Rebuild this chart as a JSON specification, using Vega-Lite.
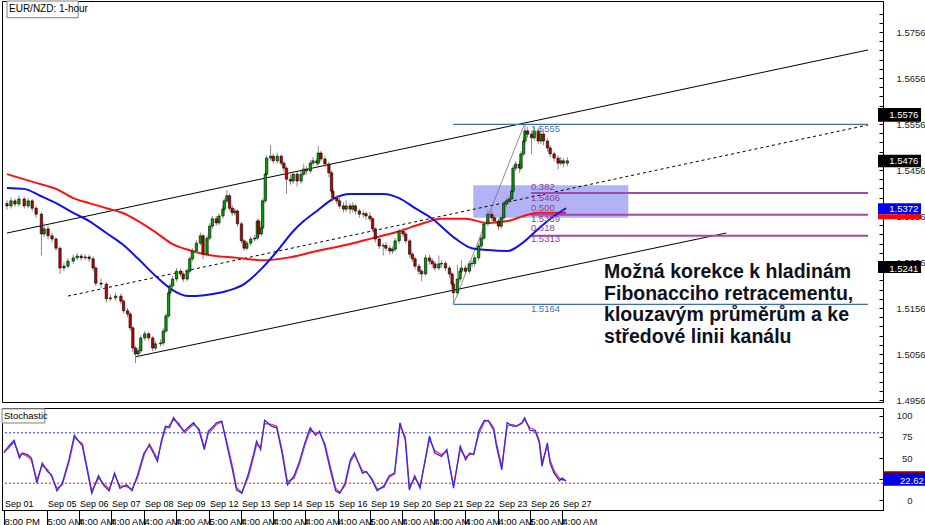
{
"$schema":"https://vega.github.io/schema/vega-lite/v6.json",
"padding":0,
"background":"#ffffff",
"spacing":1,
"config":{"view":{"stroke":"#000000","strokeWidth":1},"font":"Liberation Sans","axis":{"labelFont":"Liberation Sans","labelColor":"#222222","domainColor":"#000000","tickColor":"#000000","grid":false,"title":null}},
"resolve":{"scale":{"x":"independent","y":"independent"}},
"datasets":{
"candles":[
{"t":0,"o":1.5383,"h":1.5390,"l":1.5370,"c":1.5378},
{"t":3,"o":1.5378,"h":1.5396,"l":1.5372,"c":1.5389},
{"t":6,"o":1.5389,"h":1.5394,"l":1.5376,"c":1.5382},
{"t":9,"o":1.5382,"h":1.5400,"l":1.5377,"c":1.5393},
{"t":13,"o":1.5393,"h":1.5398,"l":1.5372,"c":1.5378},
{"t":16,"o":1.5378,"h":1.5395,"l":1.5373,"c":1.5389},
{"t":19,"o":1.5389,"h":1.5393,"l":1.5366,"c":1.5373},
{"t":22,"o":1.5373,"h":1.5378,"l":1.5352,"c":1.5360},
{"t":26,"o":1.5360,"h":1.5364,"l":1.5270,"c":1.5317},
{"t":28,"o":1.5317,"h":1.5340,"l":1.5310,"c":1.5328},
{"t":31,"o":1.5328,"h":1.5335,"l":1.5305,"c":1.5313},
{"t":34,"o":1.5313,"h":1.5320,"l":1.5298,"c":1.5306},
{"t":37,"o":1.5306,"h":1.5310,"l":1.5280,"c":1.5286},
{"t":40,"o":1.5286,"h":1.5290,"l":1.5230,"c":1.5243},
{"t":43,"o":1.5243,"h":1.5255,"l":1.5236,"c":1.5247},
{"t":46,"o":1.5247,"h":1.5264,"l":1.5242,"c":1.5258},
{"t":50,"o":1.5258,"h":1.5272,"l":1.5252,"c":1.5265},
{"t":53,"o":1.5265,"h":1.5276,"l":1.5260,"c":1.5269},
{"t":56,"o":1.5269,"h":1.5274,"l":1.5259,"c":1.5265},
{"t":59,"o":1.5265,"h":1.5273,"l":1.5260,"c":1.5267},
{"t":62,"o":1.5267,"h":1.5272,"l":1.5256,"c":1.5263},
{"t":65,"o":1.5263,"h":1.5268,"l":1.5236,"c":1.5243},
{"t":67,"o":1.5243,"h":1.5247,"l":1.5204,"c":1.5210},
{"t":71,"o":1.5210,"h":1.5220,"l":1.5200,"c":1.5208},
{"t":75,"o":1.5208,"h":1.5212,"l":1.5168,"c":1.5176},
{"t":78,"o":1.5176,"h":1.5186,"l":1.5170,"c":1.5178},
{"t":82,"o":1.5178,"h":1.5190,"l":1.5172,"c":1.5182},
{"t":86,"o":1.5182,"h":1.5188,"l":1.5164,"c":1.5171},
{"t":88,"o":1.5171,"h":1.5175,"l":1.5144,"c":1.5150},
{"t":91,"o":1.5150,"h":1.5156,"l":1.5136,"c":1.5143},
{"t":93,"o":1.5143,"h":1.5147,"l":1.5106,"c":1.5113},
{"t":95,"o":1.5113,"h":1.5116,"l":1.5060,"c":1.5069},
{"t":97,"o":1.5069,"h":1.5074,"l":1.5036,"c":1.5056},
{"t":99,"o":1.5056,"h":1.5070,"l":1.5048,"c":1.5063},
{"t":101,"o":1.5063,"h":1.5097,"l":1.5058,"c":1.5091},
{"t":104,"o":1.5091,"h":1.5106,"l":1.5085,"c":1.5100},
{"t":107,"o":1.5100,"h":1.5105,"l":1.5085,"c":1.5091},
{"t":110,"o":1.5091,"h":1.5095,"l":1.5062,"c":1.5069},
{"t":112,"o":1.5069,"h":1.5084,"l":1.5064,"c":1.5078},
{"t":116,"o":1.5078,"h":1.5088,"l":1.5072,"c":1.5080},
{"t":118,"o":1.5080,"h":1.5112,"l":1.5075,"c":1.5106},
{"t":120,"o":1.5106,"h":1.5144,"l":1.5102,"c":1.5139},
{"t":122,"o":1.5139,"h":1.5194,"l":1.5134,"c":1.5189},
{"t":123,"o":1.5189,"h":1.5210,"l":1.5183,"c":1.5204},
{"t":125,"o":1.5204,"h":1.5226,"l":1.5198,"c":1.5219},
{"t":128,"o":1.5219,"h":1.5243,"l":1.5213,"c":1.5236},
{"t":131,"o":1.5236,"h":1.5242,"l":1.5224,"c":1.5230},
{"t":133,"o":1.5230,"h":1.5235,"l":1.5212,"c":1.5219},
{"t":136,"o":1.5219,"h":1.5242,"l":1.5214,"c":1.5236},
{"t":138,"o":1.5236,"h":1.5268,"l":1.5231,"c":1.5263},
{"t":140,"o":1.5263,"h":1.5286,"l":1.5258,"c":1.5280},
{"t":143,"o":1.5280,"h":1.5303,"l":1.5275,"c":1.5297},
{"t":146,"o":1.5297,"h":1.5320,"l":1.5292,"c":1.5313},
{"t":148,"o":1.5313,"h":1.5318,"l":1.5262,"c":1.5273},
{"t":151,"o":1.5273,"h":1.5314,"l":1.5268,"c":1.5308},
{"t":153,"o":1.5308,"h":1.5340,"l":1.5303,"c":1.5334},
{"t":155,"o":1.5334,"h":1.5356,"l":1.5328,"c":1.5350},
{"t":158,"o":1.5350,"h":1.5356,"l":1.5335,"c":1.5341},
{"t":160,"o":1.5341,"h":1.5362,"l":1.5336,"c":1.5356},
{"t":163,"o":1.5356,"h":1.5378,"l":1.5350,"c":1.5371},
{"t":164,"o":1.5371,"h":1.5395,"l":1.5366,"c":1.5389},
{"t":166,"o":1.5389,"h":1.5412,"l":1.5384,"c":1.5400},
{"t":168,"o":1.5400,"h":1.5405,"l":1.5367,"c":1.5373},
{"t":170,"o":1.5373,"h":1.5380,"l":1.5356,"c":1.5363},
{"t":172,"o":1.5363,"h":1.5374,"l":1.5357,"c":1.5367},
{"t":174,"o":1.5367,"h":1.5371,"l":1.5333,"c":1.5339},
{"t":177,"o":1.5339,"h":1.5343,"l":1.5296,"c":1.5302},
{"t":179,"o":1.5302,"h":1.5306,"l":1.5280,"c":1.5286},
{"t":181,"o":1.5286,"h":1.5302,"l":1.5281,"c":1.5297},
{"t":184,"o":1.5297,"h":1.5312,"l":1.5291,"c":1.5306},
{"t":187,"o":1.5306,"h":1.5315,"l":1.5300,"c":1.5308},
{"t":189,"o":1.5308,"h":1.5350,"l":1.5303,"c":1.5345},
{"t":190,"o":1.5345,"h":1.5350,"l":1.5311,"c":1.5317},
{"t":192,"o":1.5317,"h":1.5336,"l":1.5312,"c":1.5330},
{"t":193,"o":1.5330,"h":1.5394,"l":1.5325,"c":1.5389},
{"t":195,"o":1.5389,"h":1.5452,"l":1.5384,"c":1.5447},
{"t":196,"o":1.5447,"h":1.5488,"l":1.5442,"c":1.5482},
{"t":199,"o":1.5482,"h":1.5510,"l":1.5476,"c":1.5486},
{"t":201,"o":1.5486,"h":1.5492,"l":1.5470,"c":1.5476},
{"t":204,"o":1.5476,"h":1.5494,"l":1.5470,"c":1.5486},
{"t":207,"o":1.5486,"h":1.5490,"l":1.5465,"c":1.5471},
{"t":209,"o":1.5471,"h":1.5476,"l":1.5452,"c":1.5460},
{"t":211,"o":1.5460,"h":1.5464,"l":1.5404,"c":1.5436},
{"t":214,"o":1.5436,"h":1.5446,"l":1.5424,"c":1.5432},
{"t":216,"o":1.5432,"h":1.5452,"l":1.5426,"c":1.5447},
{"t":219,"o":1.5447,"h":1.5452,"l":1.5420,"c":1.5432},
{"t":222,"o":1.5432,"h":1.5454,"l":1.5426,"c":1.5447},
{"t":224,"o":1.5447,"h":1.5470,"l":1.5442,"c":1.5458},
{"t":226,"o":1.5458,"h":1.5464,"l":1.5446,"c":1.5454},
{"t":229,"o":1.5454,"h":1.5478,"l":1.5448,"c":1.5471},
{"t":231,"o":1.5471,"h":1.5484,"l":1.5465,"c":1.5476},
{"t":234,"o":1.5476,"h":1.5482,"l":1.5465,"c":1.5471},
{"t":235,"o":1.5471,"h":1.5508,"l":1.5466,"c":1.5493},
{"t":237,"o":1.5493,"h":1.5498,"l":1.5474,"c":1.5480},
{"t":240,"o":1.5480,"h":1.5486,"l":1.5462,"c":1.5469},
{"t":243,"o":1.5469,"h":1.5474,"l":1.5440,"c":1.5450},
{"t":245,"o":1.5450,"h":1.5455,"l":1.5404,"c":1.5410},
{"t":246,"o":1.5410,"h":1.5416,"l":1.5388,"c":1.5395},
{"t":249,"o":1.5395,"h":1.5402,"l":1.5382,"c":1.5389},
{"t":251,"o":1.5389,"h":1.5395,"l":1.5372,"c":1.5378},
{"t":254,"o":1.5378,"h":1.5386,"l":1.5364,"c":1.5371},
{"t":256,"o":1.5371,"h":1.5390,"l":1.5365,"c":1.5378},
{"t":259,"o":1.5378,"h":1.5384,"l":1.5360,"c":1.5371},
{"t":261,"o":1.5371,"h":1.5386,"l":1.5364,"c":1.5378},
{"t":263,"o":1.5378,"h":1.5382,"l":1.5360,"c":1.5367},
{"t":266,"o":1.5367,"h":1.5372,"l":1.5352,"c":1.5360},
{"t":269,"o":1.5360,"h":1.5368,"l":1.5352,"c":1.5361},
{"t":271,"o":1.5361,"h":1.5366,"l":1.5348,"c":1.5356},
{"t":274,"o":1.5356,"h":1.5364,"l":1.5344,"c":1.5350},
{"t":276,"o":1.5350,"h":1.5354,"l":1.5320,"c":1.5328},
{"t":278,"o":1.5328,"h":1.5332,"l":1.5298,"c":1.5306},
{"t":281,"o":1.5306,"h":1.5312,"l":1.5284,"c":1.5291},
{"t":284,"o":1.5291,"h":1.5298,"l":1.5270,"c":1.5292},
{"t":286,"o":1.5292,"h":1.5300,"l":1.5280,"c":1.5286},
{"t":289,"o":1.5286,"h":1.5292,"l":1.5272,"c":1.5280},
{"t":291,"o":1.5280,"h":1.5290,"l":1.5274,"c":1.5284},
{"t":293,"o":1.5284,"h":1.5308,"l":1.5278,"c":1.5302},
{"t":296,"o":1.5302,"h":1.5328,"l":1.5296,"c":1.5323},
{"t":299,"o":1.5323,"h":1.5330,"l":1.5310,"c":1.5317},
{"t":301,"o":1.5317,"h":1.5322,"l":1.5296,"c":1.5302},
{"t":304,"o":1.5302,"h":1.5306,"l":1.5266,"c":1.5273},
{"t":306,"o":1.5273,"h":1.5278,"l":1.5256,"c":1.5263},
{"t":308,"o":1.5263,"h":1.5268,"l":1.5240,"c":1.5247},
{"t":311,"o":1.5247,"h":1.5252,"l":1.5228,"c":1.5236},
{"t":313,"o":1.5236,"h":1.5240,"l":1.5214,"c":1.5230},
{"t":316,"o":1.5230,"h":1.5272,"l":1.5226,"c":1.5265},
{"t":319,"o":1.5265,"h":1.5272,"l":1.5250,"c":1.5258},
{"t":321,"o":1.5258,"h":1.5264,"l":1.5244,"c":1.5252},
{"t":323,"o":1.5252,"h":1.5258,"l":1.5236,"c":1.5243},
{"t":326,"o":1.5243,"h":1.5270,"l":1.5238,"c":1.5252},
{"t":328,"o":1.5252,"h":1.5260,"l":1.5244,"c":1.5253},
{"t":331,"o":1.5253,"h":1.5258,"l":1.5236,"c":1.5243},
{"t":334,"o":1.5243,"h":1.5248,"l":1.5222,"c":1.5230},
{"t":336,"o":1.5230,"h":1.5234,"l":1.5200,"c":1.5208},
{"t":337,"o":1.5208,"h":1.5212,"l":1.5164,"c":1.5189},
{"t":340,"o":1.5189,"h":1.5250,"l":1.5184,"c":1.5219},
{"t":342,"o":1.5219,"h":1.5242,"l":1.5212,"c":1.5236},
{"t":343,"o":1.5236,"h":1.5260,"l":1.5230,"c":1.5243},
{"t":346,"o":1.5243,"h":1.5250,"l":1.5228,"c":1.5236},
{"t":349,"o":1.5236,"h":1.5258,"l":1.5230,"c":1.5252},
{"t":351,"o":1.5252,"h":1.5260,"l":1.5244,"c":1.5253},
{"t":353,"o":1.5253,"h":1.5272,"l":1.5246,"c":1.5265},
{"t":356,"o":1.5265,"h":1.5297,"l":1.5260,"c":1.5291},
{"t":358,"o":1.5291,"h":1.5314,"l":1.5286,"c":1.5308},
{"t":360,"o":1.5308,"h":1.5344,"l":1.5303,"c":1.5339},
{"t":363,"o":1.5339,"h":1.5370,"l":1.5334,"c":1.5360},
{"t":366,"o":1.5360,"h":1.5368,"l":1.5345,"c":1.5352},
{"t":368,"o":1.5352,"h":1.5358,"l":1.5338,"c":1.5345},
{"t":371,"o":1.5345,"h":1.5350,"l":1.5326,"c":1.5334},
{"t":373,"o":1.5334,"h":1.5358,"l":1.5328,"c":1.5352},
{"t":375,"o":1.5352,"h":1.5388,"l":1.5347,"c":1.5382},
{"t":377,"o":1.5382,"h":1.5396,"l":1.5376,"c":1.5389},
{"t":379,"o":1.5389,"h":1.5400,"l":1.5382,"c":1.5393},
{"t":381,"o":1.5393,"h":1.5416,"l":1.5386,"c":1.5410},
{"t":382,"o":1.5410,"h":1.5466,"l":1.5405,"c":1.5460},
{"t":384,"o":1.5460,"h":1.5476,"l":1.5454,"c":1.5469},
{"t":387,"o":1.5469,"h":1.5476,"l":1.5450,"c":1.5460},
{"t":388,"o":1.5460,"h":1.5497,"l":1.5455,"c":1.5491},
{"t":390,"o":1.5491,"h":1.5526,"l":1.5486,"c":1.5519},
{"t":391,"o":1.5519,"h":1.5555,"l":1.5514,"c":1.5541},
{"t":393,"o":1.5541,"h":1.5550,"l":1.5526,"c":1.5534},
{"t":396,"o":1.5534,"h":1.5542,"l":1.5490,"c":1.5526},
{"t":398,"o":1.5526,"h":1.5550,"l":1.5520,"c":1.5541},
{"t":401,"o":1.5541,"h":1.5548,"l":1.5512,"c":1.5519},
{"t":403,"o":1.5519,"h":1.5546,"l":1.5512,"c":1.5534},
{"t":405,"o":1.5534,"h":1.5540,"l":1.5510,"c":1.5519},
{"t":408,"o":1.5519,"h":1.5525,"l":1.5496,"c":1.5504},
{"t":410,"o":1.5504,"h":1.5510,"l":1.5484,"c":1.5491},
{"t":413,"o":1.5491,"h":1.5496,"l":1.5474,"c":1.5482},
{"t":416,"o":1.5482,"h":1.5488,"l":1.5458,"c":1.5471},
{"t":418,"o":1.5471,"h":1.5484,"l":1.5466,"c":1.5476},
{"t":420,"o":1.5476,"h":1.5482,"l":1.5462,"c":1.5471},
{"t":423,"o":1.5471,"h":1.5484,"l":1.5464,"c":1.5476}
],
"ma200":[
{"t":0,"v":1.5447},{"t":22,"v":1.5428},{"t":37,"v":1.5415},{"t":50,"v":1.5395},{"t":62,"v":1.5384},{"t":75,"v":1.5373},{"t":87,"v":1.5363},{"t":99,"v":1.5345},{"t":112,"v":1.5321},{"t":125,"v":1.5295},{"t":140,"v":1.5280},{"t":149,"v":1.5273},{"t":174,"v":1.5265},{"t":194,"v":1.5260},{"t":211,"v":1.5265},{"t":234,"v":1.5280},{"t":259,"v":1.5295},{"t":276,"v":1.5308},{"t":296,"v":1.5323},{"t":313,"v":1.5339},{"t":328,"v":1.5350},{"t":346,"v":1.5350},{"t":363,"v":1.5341},{"t":378,"v":1.5345},{"t":390,"v":1.5356},{"t":401,"v":1.5363},{"t":413,"v":1.5363},{"t":422,"v":1.5363}
],
"ma100":[
{"t":0,"v":1.5417},{"t":13,"v":1.5415},{"t":25,"v":1.5400},{"t":37,"v":1.5384},{"t":50,"v":1.5363},{"t":62,"v":1.5345},{"t":75,"v":1.5319},{"t":87,"v":1.5295},{"t":99,"v":1.5263},{"t":112,"v":1.5226},{"t":125,"v":1.5195},{"t":137,"v":1.5182},{"t":149,"v":1.5184},{"t":166,"v":1.5193},{"t":179,"v":1.5208},{"t":192,"v":1.5241},{"t":204,"v":1.5280},{"t":216,"v":1.5323},{"t":224,"v":1.5345},{"t":234,"v":1.5367},{"t":246,"v":1.5393},{"t":259,"v":1.5404},{"t":284,"v":1.5404},{"t":296,"v":1.5395},{"t":308,"v":1.5373},{"t":321,"v":1.5350},{"t":338,"v":1.5308},{"t":351,"v":1.5286},{"t":363,"v":1.5282},{"t":378,"v":1.5280},{"t":388,"v":1.5295},{"t":401,"v":1.5328},{"t":413,"v":1.5356},{"t":422,"v":1.5373}
],
"channel":[
{"t1":0,"p1":1.5319,"t2":650,"p2":1.5717},
{"t1":97,"p1":1.5050,"t2":543,"p2":1.5319}
],
"mid":[{"t1":46,"p1":1.5182,"t2":650,"p2":1.5554}],
"fibdiag":[{"t1":337,"p1":1.5164,"t2":390.5,"p2":1.5555}],
"fib":[
{"p":1.5555,"t1":337,"t2":650,"lvl":"100"},
{"p":1.5164,"t1":337,"t2":650,"lvl":"0"},
{"p":1.5406,"t1":395.5,"t2":650,"lvl":"38.2"},
{"p":1.5359,"t1":395.5,"t2":650,"lvl":"50"},
{"p":1.5313,"t1":395.5,"t2":650,"lvl":"61.8"}
],
"fiblab":[
{"t":395.5,"p":1.5418,"s":"0.382","g":"r"},
{"t":395.5,"p":1.5395,"s":"1.5406","g":"r"},
{"t":395.5,"p":1.5374,"s":"0.500","g":"r"},
{"t":395.5,"p":1.5350,"s":"1.5359","g":"r"},
{"t":395.5,"p":1.5330,"s":"0.618","g":"r"},
{"t":395.5,"p":1.5306,"s":"1.5313","g":"r"},
{"t":395.5,"p":1.5545,"s":"1.5555","g":"e"},
{"t":395.5,"p":1.5154,"s":"1.5164","g":"e"}
],
"note":[
{"t":450.7,"p":1.52206,"s":"Možná korekce k hladinám"},
{"t":450.7,"p":1.51734,"s":"Fibonacciho retracementu,"},
{"t":450.7,"p":1.51267,"s":"klouzavým průměrům a ke"},
{"t":450.7,"p":1.50799,"s":"středové linii kanálu"}
],
"boxes":[
{"v":1.5576,"lo":1.5561,"hi":1.5591,"kind":"level"},
{"v":1.5476,"lo":1.5462,"hi":1.5489,"kind":"last"},
{"v":1.5372,"lo":1.5360,"hi":1.5384,"kind":"ma100"},
{"v":1.5355,"lo":1.5349,"hi":1.5360,"kind":"ma200"},
{"v":1.5241,"lo":1.5232,"hi":1.5258,"kind":"level"}
],
"stoch":[
{"t":1.5,"k":56,"d":58},{"t":5,"k":64,"d":62},{"t":9,"k":71,"d":69},{"t":13,"k":50,"d":53},{"t":15,"k":56,"d":55},{"t":19,"k":54,"d":52},{"t":22,"k":50,"d":47},{"t":26,"k":20,"d":24},{"t":30,"k":44,"d":41},{"t":34,"k":34,"d":36},{"t":37,"k":30,"d":28},{"t":41,"k":11,"d":14},{"t":45,"k":20,"d":18},{"t":50,"k":48,"d":45},{"t":54,"k":77,"d":74},{"t":60,"k":64,"d":67},{"t":63,"k":40,"d":43},{"t":67,"k":8,"d":11},{"t":72,"k":29,"d":26},{"t":76,"k":17,"d":19},{"t":80,"k":11,"d":13},{"t":84,"k":32,"d":30},{"t":88,"k":14,"d":17},{"t":93,"k":18,"d":16},{"t":97,"k":11,"d":13},{"t":101,"k":29,"d":26},{"t":106,"k":56,"d":53},{"t":110,"k":65,"d":67},{"t":113,"k":56,"d":58},{"t":116,"k":46,"d":49},{"t":119,"k":71,"d":68},{"t":122,"k":88,"d":85},{"t":125,"k":86,"d":89},{"t":128,"k":98,"d":96},{"t":132,"k":89,"d":91},{"t":136,"k":82,"d":80},{"t":140,"k":88,"d":86},{"t":143,"k":92,"d":90},{"t":147,"k":83,"d":85},{"t":151,"k":60,"d":63},{"t":154,"k":82,"d":79},{"t":158,"k":88,"d":86},{"t":160,"k":92,"d":90},{"t":164,"k":94,"d":93},{"t":168,"k":64,"d":68},{"t":172,"k":36,"d":40},{"t":175,"k":12,"d":15},{"t":179,"k":8,"d":9},{"t":184,"k":32,"d":28},{"t":188,"k":56,"d":53},{"t":190,"k":70,"d":66},{"t":193,"k":60,"d":63},{"t":196,"k":95,"d":91},{"t":201,"k":88,"d":90},{"t":205,"k":86,"d":88},{"t":209,"k":56,"d":60},{"t":213,"k":18,"d":22},{"t":218,"k":29,"d":26},{"t":222,"k":46,"d":43},{"t":226,"k":68,"d":65},{"t":230,"k":86,"d":83},{"t":234,"k":77,"d":80},{"t":237,"k":82,"d":80},{"t":241,"k":64,"d":67},{"t":245,"k":36,"d":40},{"t":249,"k":11,"d":14},{"t":252,"k":8,"d":9},{"t":256,"k":20,"d":17},{"t":260,"k":48,"d":45},{"t":263,"k":56,"d":54},{"t":269,"k":32,"d":35},{"t":272,"k":34,"d":33},{"t":276,"k":24,"d":26},{"t":280,"k":11,"d":13},{"t":285,"k":17,"d":15},{"t":289,"k":29,"d":27},{"t":293,"k":32,"d":31},{"t":297,"k":92,"d":88},{"t":301,"k":71,"d":75},{"t":304,"k":12,"d":16},{"t":308,"k":29,"d":26},{"t":312,"k":14,"d":17},{"t":319,"k":76,"d":72},{"t":323,"k":56,"d":59},{"t":328,"k":52,"d":54},{"t":332,"k":60,"d":58},{"t":337,"k":14,"d":18},{"t":342,"k":64,"d":60},{"t":346,"k":48,"d":51},{"t":349,"k":56,"d":54},{"t":352,"k":54,"d":55},{"t":356,"k":83,"d":79},{"t":360,"k":95,"d":93},{"t":363,"k":94,"d":95},{"t":367,"k":83,"d":86},{"t":369,"k":64,"d":68},{"t":373,"k":36,"d":40},{"t":377,"k":92,"d":88},{"t":381,"k":88,"d":90},{"t":384,"k":88,"d":88},{"t":388,"k":92,"d":91},{"t":390,"k":98,"d":96},{"t":394,"k":83,"d":86},{"t":398,"k":82,"d":83},{"t":401,"k":68,"d":71},{"t":403,"k":40,"d":45},{"t":407,"k":68,"d":64},{"t":409,"k":44,"d":48},{"t":412,"k":32,"d":35},{"t":416,"k":23,"d":26},{"t":418,"k":26,"d":24},{"t":421,"k":22.62,"d":23}
],
"slevels":[{"v":80,"kind":"ob"},{"v":20,"kind":"os"}],
"days":[
{"t":1.5,"d":"Sep 01"},{"t":33.6,"d":"Sep 05"},{"t":57.5,"d":"Sep 06"},{"t":81.3,"d":"Sep 07"},{"t":106,"d":"Sep 08"},{"t":129.9,"d":"Sep 09"},{"t":154.5,"d":"Sep 12"},{"t":178.4,"d":"Sep 13"},{"t":202.2,"d":"Sep 14"},{"t":226.1,"d":"Sep 15"},{"t":250.7,"d":"Sep 16"},{"t":274.6,"d":"Sep 19"},{"t":298.5,"d":"Sep 20"},{"t":322.4,"d":"Sep 21"},{"t":345.5,"d":"Sep 22"},{"t":370.1,"d":"Sep 23"},{"t":394,"d":"Sep 26"},{"t":417.9,"d":"Sep 27"}
],
"sbox":[{"v":22.62,"lo":17,"hi":33}]
},
"vconcat":[
{
"width":881,"height":401,
"resolve":{"axis":{"x":"independent","y":"independent"}},
"layer":[
{"data":{"values":[{"t1":352,"t2":469,"p1":1.5352,"p2":1.5423}]},"mark":{"type":"rect","color":"#b2b2f6"},
"encoding":{"x":{"field":"t1","type":"quantitative","scale":{"domain":[0,657.5],"nice":false,"zero":false},"axis":null},"x2":{"field":"t2"},
"y":{"field":"p1","type":"quantitative","scale":{"domain":[1.49517,1.58234],"nice":false,"zero":false},"axis":null},"y2":{"field":"p2"}}},
{"data":{"name":"channel"},"mark":{"type":"rule","color":"#000000","strokeWidth":1},
"encoding":{"x":{"field":"t1","type":"quantitative","scale":{"domain":[0,657.5],"nice":false,"zero":false},"axis":null},"x2":{"field":"t2"},
"y":{"field":"p1","type":"quantitative","scale":{"domain":[1.49517,1.58234],"nice":false,"zero":false},"axis":null},"y2":{"field":"p2"}}},
{"data":{"name":"mid"},"mark":{"type":"rule","color":"#000000","strokeWidth":1,"strokeDash":[3,3]},
"encoding":{"x":{"field":"t1","type":"quantitative","scale":{"domain":[0,657.5],"nice":false,"zero":false},"axis":null},"x2":{"field":"t2"},
"y":{"field":"p1","type":"quantitative","scale":{"domain":[1.49517,1.58234],"nice":false,"zero":false},"axis":null},"y2":{"field":"p2"}}},
{"data":{"name":"fib"},"mark":{"type":"rule"},
"encoding":{"x":{"field":"t1","type":"quantitative","scale":{"domain":[0,657.5],"nice":false,"zero":false},"axis":null},"x2":{"field":"t2"},
"y":{"field":"p","type":"quantitative","scale":{"domain":[1.49517,1.58234],"nice":false,"zero":false},"axis":null},
"color":{"condition":{"test":"datum.lvl=='100'||datum.lvl=='0'","value":"#3b70a8"},"value":"#a049a8"},
"strokeWidth":{"condition":{"test":"datum.lvl=='100'||datum.lvl=='0'","value":1.3},"value":2}}},
{"data":{"name":"fibdiag"},"mark":{"type":"rule","color":"#707070","strokeWidth":0.8},
"encoding":{"x":{"field":"t1","type":"quantitative","scale":{"domain":[0,657.5],"nice":false,"zero":false},"axis":null},"x2":{"field":"t2"},
"y":{"field":"p1","type":"quantitative","scale":{"domain":[1.49517,1.58234],"nice":false,"zero":false},"axis":null},"y2":{"field":"p2"}}},
{"data":{"name":"ma200"},"mark":{"type":"line","color":"#ff1010","strokeWidth":2,"interpolate":"monotone"},
"encoding":{"x":{"field":"t","type":"quantitative","scale":{"domain":[0,657.5],"nice":false,"zero":false},"axis":null},
"y":{"field":"v","type":"quantitative","scale":{"domain":[1.49517,1.58234],"nice":false,"zero":false},"axis":null}}},
{"data":{"name":"ma100"},"mark":{"type":"line","color":"#1010f0","strokeWidth":2,"interpolate":"monotone"},
"encoding":{"x":{"field":"t","type":"quantitative","scale":{"domain":[0,657.5],"nice":false,"zero":false},"axis":null},
"y":{"field":"v","type":"quantitative","scale":{"domain":[1.49517,1.58234],"nice":false,"zero":false},"axis":null}}},
{"data":{"name":"candles"},"mark":{"type":"rule","color":"#8a8a8a","strokeWidth":1,"clip":true},
"encoding":{"x":{"field":"t","type":"quantitative","scale":{"domain":[0,657.5],"nice":false,"zero":false},"axis":null},
"y":{"field":"l","type":"quantitative","scale":{"domain":[1.49517,1.58234],"nice":false,"zero":false},"axis":null},"y2":{"field":"h"}}},
{"data":{"name":"candles"},"mark":{"type":"bar","width":2.4,"stroke":"#000000","strokeWidth":0.6,"clip":true},
"encoding":{"x":{"field":"t","type":"quantitative","scale":{"domain":[0,657.5],"nice":false,"zero":false},"axis":null},
"y":{"field":"o","type":"quantitative","scale":{"domain":[1.49517,1.58234],"nice":false,"zero":false},
"axis":{"orient":"right","values":[1.4956,1.4976,1.4996,1.5016,1.5036,1.5056,1.5076,1.5096,1.5116,1.5136,1.5156,1.5176,1.5196,1.5216,1.5236,1.5256,1.5276,1.5296,1.5316,1.5336,1.5356,1.5376,1.5396,1.5416,1.5436,1.5456,1.5476,1.5496,1.5516,1.5536,1.5556,1.5576,1.5596,1.5616,1.5636,1.5656,1.5676,1.5696,1.5716,1.5736,1.5756,1.5776,1.5796],
"labelExpr":"(round(datum.value*10000) - 14956) % 100 == 0 ? format(datum.value, '.4f') : ''","tickSize":-4,"labelPadding":17,"labelFontSize":9.5,"labelAlign":"left","labelBaseline":"middle","labelOverlap":false,"labelBound":false,"title":null}},
"y2":{"field":"c"},
"fill":{"condition":{"test":"datum.c >= datum.o","value":"#00a000"},"value":"#c00000"}}},
{"data":{"name":"fiblab"},"mark":{"type":"text","align":"left","baseline":"middle","fontSize":9.5},
"encoding":{"x":{"field":"t","type":"quantitative","scale":{"domain":[0,657.5],"nice":false,"zero":false},"axis":null},
"y":{"field":"p","type":"quantitative","scale":{"domain":[1.49517,1.58234],"nice":false,"zero":false},"axis":null},
"text":{"field":"s"},
"color":{"condition":{"test":"datum.g=='e'","value":"#4a6fb8"},"value":"#8e3f98"}}},
{"data":{"name":"note"},"mark":{"type":"text","align":"left","baseline":"alphabetic","fontSize":19.5,"fontWeight":"bold","font":"Liberation Sans","color":"#10101e"},
"encoding":{"x":{"field":"t","type":"quantitative","scale":{"domain":[0,657.5],"nice":false,"zero":false},"axis":null},
"y":{"field":"p","type":"quantitative","scale":{"domain":[1.49517,1.58234],"nice":false,"zero":false},"axis":null},
"text":{"field":"s"}}},
{"data":{"values":[{"s":"EUR/NZD: 1-hour"}]},
"layer":[
{"mark":{"type":"rect","fill":"#ffffff","stroke":"#808080","strokeWidth":1},
"encoding":{"x":{"datum":0,"type":"quantitative","scale":{"domain":[0,657.5],"nice":false,"zero":false},"axis":null},"x2":{"datum":53.7},
"y":{"datum":1.5787,"type":"quantitative","scale":{"domain":[1.49517,1.58234],"nice":false,"zero":false},"axis":null},"y2":{"datum":1.58234}}},
{"mark":{"type":"text","align":"left","baseline":"middle","fontSize":10,"color":"#000000"},
"encoding":{"x":{"datum":1.5,"type":"quantitative","scale":{"domain":[0,657.5],"nice":false,"zero":false},"axis":null},
"y":{"datum":1.5805,"type":"quantitative","scale":{"domain":[1.49517,1.58234],"nice":false,"zero":false},"axis":null},"text":{"field":"s"}}}
]},
{"data":{"name":"boxes"},"mark":{"type":"rect","clip":false},
"encoding":{"x":{"datum":657.5,"type":"quantitative","scale":{"domain":[0,657.5],"nice":false,"zero":false},"axis":null},"x2":{"datum":690},
"y":{"field":"lo","type":"quantitative","scale":{"domain":[1.49517,1.58234],"nice":false,"zero":false},"axis":null},"y2":{"field":"hi"},
"fill":{"field":"kind","type":"nominal","scale":{"domain":["level","last","ma100","ma200"],"range":["#000000","#000000","#0000f0","#ff0000"]},"legend":null}}},
{"data":{"name":"boxes"},"transform":[{"filter":"datum.kind != 'ma200'"}],"mark":{"type":"text","align":"right","baseline":"middle","fontSize":9.5,"color":"#ffffff","clip":false},
"encoding":{"x":{"datum":688,"type":"quantitative","scale":{"domain":[0,657.5],"nice":false,"zero":false},"axis":null},
"y":{"field":"v","type":"quantitative","scale":{"domain":[1.49517,1.58234],"nice":false,"zero":false},"axis":null},
"text":{"field":"v","type":"quantitative","format":".4f"}}}
]
},
{
"width":881,"height":102,
"resolve":{"axis":{"x":"independent","y":"independent"}},
"layer":[
{"data":{"name":"slevels"},"mark":{"type":"rule","strokeDash":[2,2],"strokeWidth":1},
"encoding":{"y":{"field":"v","type":"quantitative","scale":{"domain":[-11.9,109.52],"nice":false,"zero":false},"axis":null},
"color":{"condition":{"test":"datum.kind=='ob'","value":"#2a2af0"},"value":"#cc1a1a"}}},
{"data":{"name":"stoch"},"mark":{"type":"line","color":"#ff3a3a","strokeWidth":1.3},
"encoding":{"x":{"field":"t","type":"quantitative","scale":{"domain":[0,657.5],"nice":false,"zero":false},"axis":null},
"y":{"field":"d","type":"quantitative","scale":{"domain":[-11.9,109.52],"nice":false,"zero":false},"axis":null}}},
{"data":{"name":"stoch"},"mark":{"type":"line","color":"#2a2aff","strokeWidth":1.3},
"encoding":{"x":{"field":"t","type":"quantitative","scale":{"domain":[0,657.5],"nice":false,"zero":false},
"axis":{"orient":"bottom","values":[1.5,33.6,57.5,81.3,106,129.9,154.5,178.4,202.2,226.1,250.7,274.6,298.5,322.4,345.5,370.1,394,417.9],
"labelExpr":"datum.value < 5 ? '8:00 PM' : (datum.value == 33.6 || datum.value == 154.5 || datum.value == 274.6 || datum.value == 394) ? '5:00 AM' : '4:00 AM'",
"tickSize":18,"labelPadding":-12,"labelAlign":"left","labelBaseline":"top","labelDx":2,"labelFontSize":9.5,"labelColor":"#000000","labelOverlap":false,"labelBound":false,"domain":true,"title":null}},
"y":{"field":"k","type":"quantitative","scale":{"domain":[-11.9,109.52],"nice":false,"zero":false},
"axis":{"orient":"right","values":[0,25,50,75,100],"tickSize":-4,"labelPadding":33,"labelAlign":"right","labelBaseline":"middle","labelFontSize":9.5,"labelOverlap":false,"labelBound":false,"title":null}}}},
{"data":{"name":"days"},"mark":{"type":"text","align":"left","baseline":"middle","fontSize":9,"dx":1,"color":"#000000"},
"encoding":{"x":{"field":"t","type":"quantitative","scale":{"domain":[0,657.5],"nice":false,"zero":false},"axis":null},
"y":{"datum":-5,"type":"quantitative","scale":{"domain":[-11.9,109.52],"nice":false,"zero":false},"axis":null},
"text":{"field":"d"}}},
{"data":{"values":[{"s":"Stochastic"}]},
"layer":[
{"mark":{"type":"rect","fill":"#ffffff","stroke":"#808080","strokeWidth":1},
"encoding":{"x":{"datum":0,"type":"quantitative","scale":{"domain":[0,657.5],"nice":false,"zero":false},"axis":null},"x2":{"datum":32},
"y":{"datum":91.7,"type":"quantitative","scale":{"domain":[-11.9,109.52],"nice":false,"zero":false},"axis":null},"y2":{"datum":108.5}}},
{"mark":{"type":"text","align":"left","baseline":"middle","fontSize":9.5,"color":"#000000"},
"encoding":{"x":{"datum":1.5,"type":"quantitative","scale":{"domain":[0,657.5],"nice":false,"zero":false},"axis":null},
"y":{"datum":100,"type":"quantitative","scale":{"domain":[-11.9,109.52],"nice":false,"zero":false},"axis":null},"text":{"field":"s"}}}
]},
{"data":{"name":"sbox"},"mark":{"type":"rect","fill":"#0000e0","clip":false},
"encoding":{"x":{"datum":657.5,"type":"quantitative","scale":{"domain":[0,657.5],"nice":false,"zero":false},"axis":null},"x2":{"datum":690},
"y":{"field":"lo","type":"quantitative","scale":{"domain":[-11.9,109.52],"nice":false,"zero":false},"axis":null},"y2":{"field":"hi"}}},
{"data":{"name":"sbox"},"mark":{"type":"rule","color":"#8b0000","strokeWidth":2,"clip":false},
"encoding":{"x":{"datum":657.5,"type":"quantitative","scale":{"domain":[0,657.5],"nice":false,"zero":false},"axis":null},"x2":{"datum":690},
"y":{"field":"hi","type":"quantitative","scale":{"domain":[-11.9,109.52],"nice":false,"zero":false},"axis":null}}},
{"data":{"name":"sbox"},"mark":{"type":"text","align":"right","baseline":"middle","fontSize":9.5,"color":"#ffffff","clip":false},
"encoding":{"x":{"datum":688,"type":"quantitative","scale":{"domain":[0,657.5],"nice":false,"zero":false},"axis":null},
"y":{"field":"v","type":"quantitative","scale":{"domain":[-11.9,109.52],"nice":false,"zero":false},"axis":null},
"text":{"field":"v","type":"quantitative","format":".2f"}}}
]
}
]
}
